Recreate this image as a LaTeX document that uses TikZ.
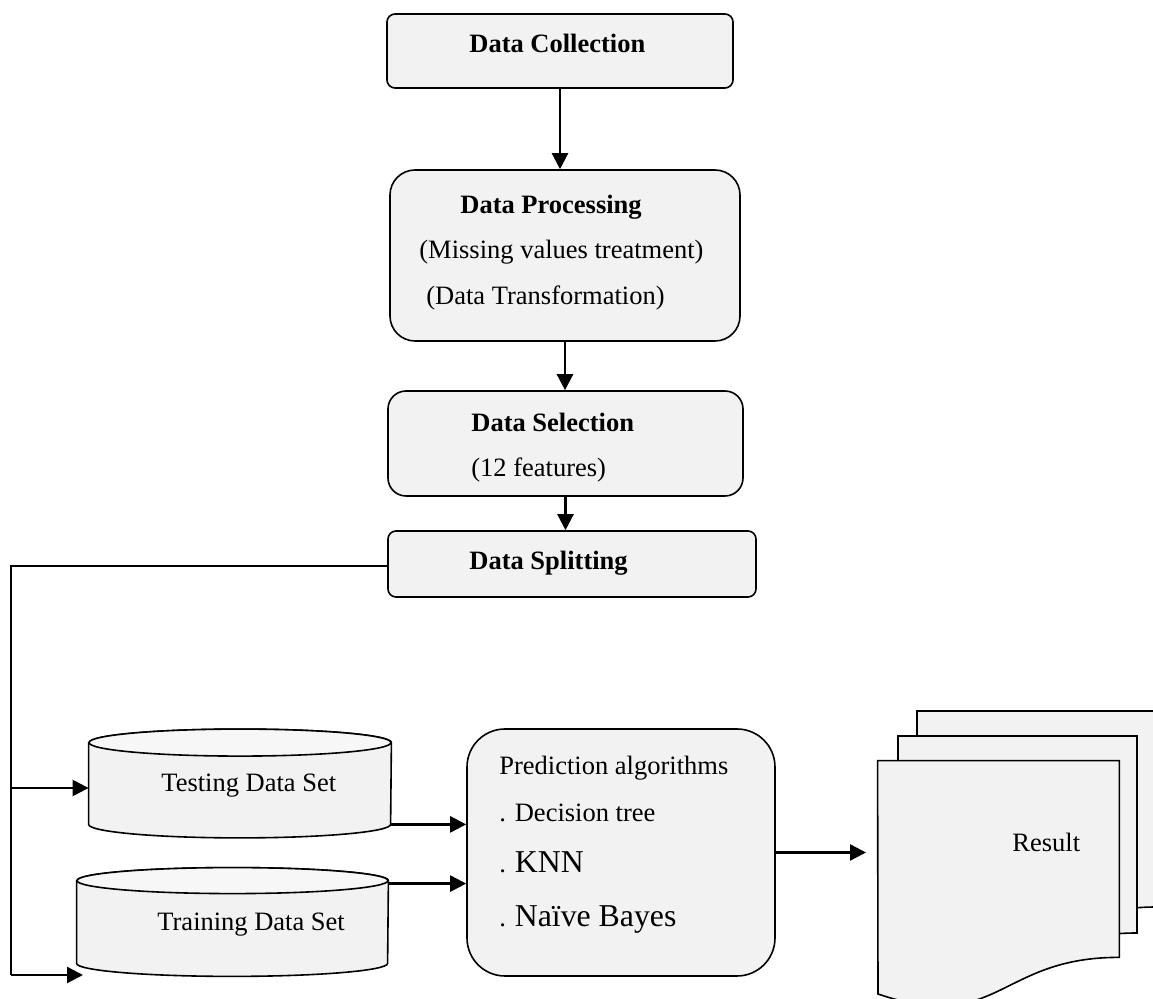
\documentclass[tikz,border=0pt]{standalone}
\usepackage{fontspec}
\setmainfont{Liberation Serif}
\usetikzlibrary{arrows.meta,calc}
\definecolor{boxfill}{HTML}{F2F2F2}
\definecolor{topfill}{HTML}{F7F7F7}
\newcommand{\smalldot}{{\fontsize{13.25}{15}\selectfont. }}
\begin{document}
\begin{tikzpicture}[x=0.5pt,y=-0.5pt,
  box/.style={draw=black, line width=0.8pt, fill=boxfill, rectangle, inner sep=0pt},
  holder/.style={inner sep=0pt, rectangle},
  txt/.style={inner sep=0pt, anchor=base west, font=\fontsize{13.25}{15}\selectfont},
  btxt/.style={txt, font=\fontsize{13.25}{15}\selectfont\bfseries},
  bigtxt/.style={txt, font=\fontsize{15.9}{18}\selectfont},
  arr/.style={line width=1.2pt, -{Triangle[length=8pt,width=8pt]}},
  thinline/.style={line width=0.65pt},
  cyl/.style={draw=black, line width=0.8pt, fill=boxfill},
  cyltop/.style={draw=black, line width=0.8pt, fill=topfill},
  doc/.style={draw=black, line width=0.8pt, fill=boxfill}
]
\useasboundingbox (0,0) rectangle (1153,999);

% main flow boxes
\node[box, rounded corners=4pt, minimum width=173pt, minimum height=37pt] (dc) at (560,51) {};
\node[box, rounded corners=12.5pt, minimum width=175pt, minimum height=85.5pt] (dp) at (565,255.5) {};
\node[box, rounded corners=9pt, minimum width=177.5pt, minimum height=52.5pt] (ds) at (565.5,443.5) {};
\node[box, rounded corners=4pt, minimum width=184pt, minimum height=33pt] (dsp) at (572,564) {};
\node[box, rounded corners=19pt, minimum width=154pt, minimum height=123.5pt] (pa) at (621,852.5) {};

% texts
\node[btxt] (dcl) at (469,53) {Data Collection};
\node[btxt] (dpl) at (460,214) {Data Processing};
\node[txt] (dpl2) at (419,259) {(Missing values treatment)};
\node[txt] (dpl3) at (426,305) {(Data Transformation)};
\node[btxt] (dsl) at (471,432) {Data Selection};
\node[txt] (dsl2) at (471,477) {(12 features)};
\node[btxt] (dspl) at (469,570) {Data Splitting};
\node[txt] (pal1) at (499,775) {Prediction algorithms};
\node[txt] (pal2) at (499,822) {. Decision tree};
\node[bigtxt] (pal3) at (499,873) {\smalldot KNN};
\node[bigtxt] (pal4) at (499,927) {\smalldot Naïve Bayes};

% cylinders
\node[holder, minimum width=151pt, minimum height=40.5pt] (test) at (240,783.5) {};
\draw[cyl] (test.north west) -- (test.south west)
  arc[start angle=180, end angle=360, x radius=75.5pt, y radius=6.75pt]
  -- (test.north east)
  arc[start angle=0, end angle=180, x radius=75.5pt, y radius=6.75pt] -- cycle;
\draw[cyltop] (test.north) ellipse[x radius=75.5pt, y radius=6.75pt];
\node[txt] (testl) at (161,792) {Testing Data Set};

\node[holder, minimum width=155.5pt, minimum height=41pt] (train) at (232.5,922) {};
\draw[cyl] (train.north west) -- (train.south west)
  arc[start angle=180, end angle=360, x radius=77.75pt, y radius=6.5pt]
  -- (train.north east)
  arc[start angle=0, end angle=180, x radius=77.75pt, y radius=6.5pt] -- cycle;
\draw[cyltop] (train.north) ellipse[x radius=77.75pt, y radius=6.5pt];
\node[txt] (trainl) at (157,931) {Training Data Set};

% result documents
\draw[doc] (917,711) -- (1157,711) -- (1157,907)
  .. controls (1037,907) and (1037,982) .. (917,940) -- cycle;
\draw[doc] (898,736) -- (1137,736) -- (1137,933)
  .. controls (1017.5,933) and (1017.5,1008) .. (898,965) -- cycle;
\node[holder, minimum width=120.5pt, minimum height=98pt] (res) at (998.5,859) {};
\draw[doc] (res.south east) .. controls (998.5,957) and (998.5,1035) .. (878,994)
  -- (res.north west) -- (res.north east) -- cycle;
\node[txt] (resl) at (1012,852) {Result};

% connectors
\draw[arr] (dc.south) -- (dc.south |- dp.north);
\draw[arr] (dp.south) -- (dp.south |- ds.north);
\draw[arr] (ds.south) -- (ds.south |- dsp.north);

\coordinate (corner) at (11,566);
\coordinate (bot) at (11,975);
\coordinate (trainend) at (83,975);
\coordinate (resin) at (866,852.5);
\draw[thinline] (dsp.west |- corner) -- (corner) -- (bot);
\draw[arr] (corner |- 0,788) -- (test.west |- 0,788);
\draw[arr] (bot) -- (trainend);

\draw[arr] (test.south east) -- (test.south east -| pa.west);
\draw[arr] ($(train.north east)+(0,3)$) -- ($(train.north east -| pa.west)+(0,3)$);
\draw[arr] (pa.east) -- (resin);
\end{tikzpicture}
\end{document}
